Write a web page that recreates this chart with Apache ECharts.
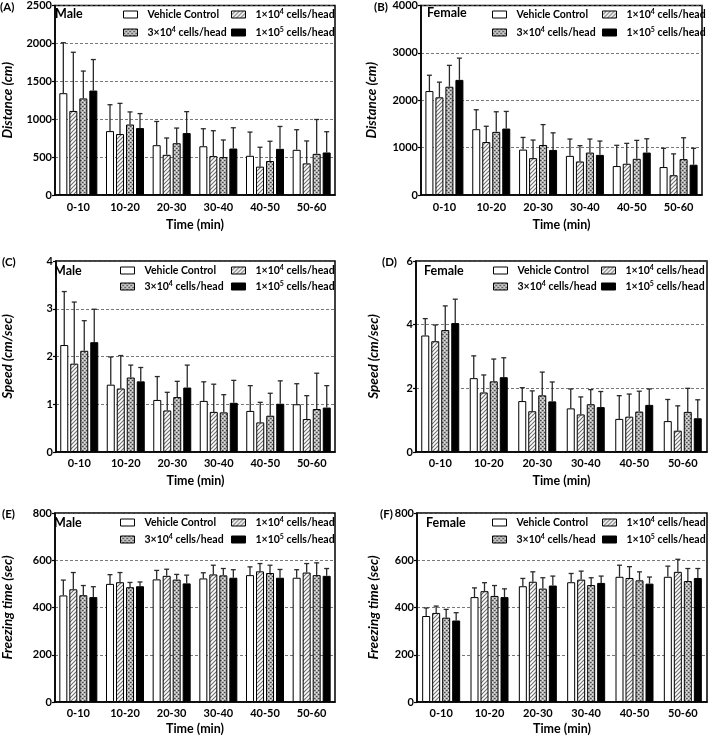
<!DOCTYPE html>
<html><head><meta charset="utf-8">
<script src="https://cdn.jsdelivr.net/npm/echarts@6/dist/echarts.min.js"></script>
<style>html,body{margin:0;padding:0;background:#fff}#c{width:709px;height:736px}</style>
</head><body><div id="c"></div>
<script>
// ---------- DATA ----------
const categories = ['0-10', '10-20', '20-30', '30-40', '40-50', '50-60'];
const seriesNames = ['Vehicle Control', '1×10⁴ cells/head', '3×10⁴ cells/head', '1×10⁵ cells/head'];

// (A) Distance, Male  [vehicle, 1e4, 3e4, 1e5]
const distanceMaleTicks = [0, 500, 1000, 1500, 2000, 2500];
const distanceMaleMeans = [
  [1343, 843, 657, 643, 517, 596],
  [1109, 804, 530, 513, 374, 417],
  [1274, 930, 683, 500, 448, 543],
  [1378, 883, 817, 613, 609, 561]];
const distanceMaleSD = [
  [666, 348, 313, 231, 313, 265],
  [774, 405, 222, 335, 256, 296],
  [361, 166, 200, 226, 261, 453],
  [409, 191, 283, 274, 295, 274]];

// (B) Distance, Female
const distanceFemaleTicks = [0, 1000, 2000, 3000, 4000];
const distanceFemaleMeans = [
  [2194, 1389, 958, 826, 611, 590],
  [2062, 1118, 778, 708, 660, 417],
  [2285, 1333, 1056, 896, 764, 757],
  [2430, 1403, 951, 847, 896, 639]];
const distanceFemaleSD = [
  [334, 410, 257, 355, 438, 396],
  [320, 333, 382, 334, 430, 451],
  [451, 424, 430, 285, 389, 451],
  [459, 361, 361, 292, 291, 347]];

// (C) Speed, Male
const speedMaleTicks = [0, 1, 2, 3, 4];
const speedMaleMeans = [
  [2.24, 1.41, 1.09, 1.07, 0.86, 1.00],
  [1.85, 1.33, 0.87, 0.84, 0.62, 0.69],
  [2.12, 1.56, 1.15, 0.83, 0.76, 0.90],
  [2.30, 1.48, 1.35, 1.03, 1.01, 0.93]];
const speedMaleSD = [
  [1.12, 0.58, 0.49, 0.40, 0.53, 0.43],
  [1.29, 0.69, 0.38, 0.58, 0.42, 0.49],
  [0.63, 0.26, 0.33, 0.37, 0.47, 0.75],
  [0.69, 0.29, 0.47, 0.47, 0.48, 0.46]];

// (D) Speed, Female
const speedFemaleTicks = [0, 2, 4, 6];
const speedFemaleMeans = [
  [3.66, 2.32, 1.60, 1.37, 1.04, 0.97],
  [3.48, 1.87, 1.28, 1.18, 1.11, 0.67],
  [3.83, 2.22, 1.78, 1.50, 1.27, 1.26],
  [4.05, 2.35, 1.59, 1.41, 1.48, 1.06]];
const speedFemaleSD = [
  [0.53, 0.70, 0.42, 0.61, 0.73, 0.68],
  [0.51, 0.55, 0.64, 0.55, 0.71, 0.78],
  [0.76, 0.70, 0.73, 0.46, 0.64, 0.74],
  [0.75, 0.61, 0.61, 0.49, 0.50, 0.58]];

// (E) Freezing time, Male
const freezeMaleTicks = [0, 200, 400, 600, 800];
const freezeMaleMeans = [
  [451, 500, 519, 523, 537, 526],
  [477, 507, 534, 540, 553, 548],
  [452, 486, 518, 536, 546, 537],
  [444, 490, 502, 526, 526, 534]];
const freezeMaleSD = [
  [65, 39, 38, 24, 35, 34],
  [71, 41, 28, 39, 33, 38],
  [41, 20, 22, 29, 33, 52],
  [44, 18, 35, 34, 35, 31]];

// (F) Freezing time, Female
const freezeFemaleTicks = [0, 200, 400, 600, 800];
const freezeFemaleMeans = [
  [364, 444, 490, 507, 530, 530],
  [377, 469, 509, 518, 525, 551],
  [357, 449, 480, 495, 515, 512],
  [345, 444, 493, 504, 501, 525]];
const freezeFemaleSD = [
  [34, 39, 33, 37, 49, 45],
  [29, 36, 42, 36, 48, 53],
  [35, 44, 46, 31, 36, 53],
  [33, 35, 40, 29, 28, 40]];

// ---------- STYLE / LAYOUT ----------
const FONT = 'Lato, "Liberation Sans", sans-serif';
const BAR_W = 8, BAR_GAP = 0.25, CAP = 5;

function hatchPattern() {
  const c = document.createElement('canvas'); c.width = 4; c.height = 4;
  const g = c.getContext('2d');
  g.fillStyle = '#ffffff'; g.fillRect(0, 0, 4, 4);
  g.strokeStyle = '#6e6e6e'; g.lineWidth = 1.1;
  g.beginPath();
  g.moveTo(0, 4); g.lineTo(4, 0);
  g.moveTo(-1, 1); g.lineTo(1, -1);
  g.moveTo(3, 5); g.lineTo(5, 3);
  g.stroke();
  return c;
}
function checkPattern() {
  const c = document.createElement('canvas'); c.width = 4; c.height = 4;
  const g = c.getContext('2d');
  g.fillStyle = '#b4b4b4'; g.fillRect(0, 0, 4, 4);
  g.fillStyle = '#4a4a4a'; g.fillRect(0, 0, 1, 1); g.fillRect(2, 2, 1, 1);
  g.fillStyle = '#7a7a7a'; g.fillRect(1, 0, 1, 1); g.fillRect(3, 2, 1, 1);
  g.fillStyle = '#e6e6e6'; g.fillRect(2, 0, 1, 1); g.fillRect(0, 2, 1, 1);
  return c;
}
const fills = ['#ffffff', { image: hatchPattern(), repeat: 'repeat' },
               { image: checkPattern(), repeat: 'repeat' }, '#000000'];

const panels = [
  { tag: '(A)', sex: 'Male', yName: 'Distance (cm)', ticks: distanceMaleTicks, means: distanceMaleMeans, sd: distanceMaleSD,
    grid: { left: 48, right: 374, top: 4, bottom: 541 }, nameGap: 40, tagPos: [0, 1], sexPos: [55, 7], leg: [123, 231], legTop: 8, legGap: 5, xLabelMargin: 7, xNameGap: 23 },
  { tag: '(B)', sex: 'Female', yName: 'Distance (cm)', ticks: distanceFemaleTicks, means: distanceFemaleMeans, sd: distanceFemaleSD,
    grid: { left: 421, right: 7, top: 4, bottom: 541 }, nameGap: 42, tagPos: [374, 1], sexPos: [427, 6], leg: [492, 602], legTop: 8, legGap: 5, xLabelMargin: 7, xNameGap: 23 },
  { tag: '(C)', sex: 'Male', yName: 'Speed (cm/sec)', ticks: speedMaleTicks, means: speedMaleMeans, sd: speedMaleSD,
    grid: { left: 48, right: 374, top: 261, bottom: 284 }, nameGap: 41, tagPos: [2, 256], sexPos: [54, 264], leg: [120, 231], legTop: 264, legGap: 3, xLabelMargin: 6, xNameGap: 22 },
  { tag: '(D)', sex: 'Female', yName: 'Speed (cm/sec)', ticks: speedFemaleTicks, means: speedFemaleMeans, sd: speedFemaleSD,
    grid: { left: 416, right: 2, top: 261, bottom: 284 }, nameGap: 35, tagPos: [382, 256], sexPos: [424, 264], leg: [493, 601], legTop: 264, legGap: 3, xLabelMargin: 6, xNameGap: 22 },
  { tag: '(E)', sex: 'Male', yName: 'Freezing time (sec)', ticks: freezeMaleTicks, means: freezeMaleMeans, sd: freezeMaleSD,
    grid: { left: 48, right: 374, top: 513, bottom: 32 }, nameGap: 40, tagPos: [2, 508], sexPos: [54, 516], leg: [120, 231], legTop: 516, legGap: 4, xLabelMargin: 6, xNameGap: 20 },
  { tag: '(F)', sex: 'Female', yName: 'Freezing time (sec)', ticks: freezeFemaleTicks, means: freezeFemaleMeans, sd: freezeFemaleSD,
    grid: { left: 417, right: 2, top: 513, bottom: 32 }, nameGap: 36, tagPos: [380, 508], sexPos: [426, 516], leg: [492, 602], legTop: 516, legGap: 4, xLabelMargin: 6, xNameGap: 20 }
];

function errRenderer(k) {
  return function (params, api) {
    const ci = api.value(0), m = api.value(1), t = api.value(2);
    const p0 = api.coord([ci, m]), p1 = api.coord([ci, t]);
    const off = (k - 1.5) * BAR_W * (1 + BAR_GAP);
    const x = p0[0] + off;
    const st = { stroke: '#2a2a2a', lineWidth: 1.3 };
    return { type: 'group', children: [
      { type: 'line', shape: { x1: x, y1: p0[1], x2: x, y2: p1[1] }, style: st },
      { type: 'line', shape: { x1: x - CAP / 2, y1: p1[1], x2: x + CAP / 2, y2: p1[1] }, style: st }
    ] };
  };
}

const option = { animation: false, backgroundColor: '#fff', grid: [], xAxis: [], yAxis: [], series: [], legend: [], title: [] };
const txt = { fontFamily: FONT, fontWeight: 'bold', color: '#000' };
const LEG_FS = 10.5;
const SUP = { '⁴': '4', '⁵': '5' };

function legendText(name) {
  const m = name.match(/^(.*?)([⁴⁵])(.*)$/);
  if (!m) return '{a|' + name + '}';
  return '{a|' + m[1] + '}{s|' + SUP[m[2]] + '}{b|' + m[3] + '}';
}

panels.forEach((p, i) => {
  option.grid.push(Object.assign({ show: true, borderColor: '#000', borderWidth: 1.5, backgroundColor: '#fff' }, p.grid));
  option.xAxis.push({
    type: 'category', gridIndex: i, data: categories,
    name: 'Time (min)', nameLocation: 'middle', nameGap: p.xNameGap,
    nameTextStyle: Object.assign({ fontSize: 12.5 }, txt),
    axisLine: { lineStyle: { color: '#000', width: 1.5 } }, axisTick: { show: false },
    axisLabel: Object.assign({ fontSize: 11, margin: p.xLabelMargin }, txt)
  });
  const tk = p.ticks;
  option.yAxis.push({
    type: 'value', gridIndex: i, min: tk[0], max: tk[tk.length - 1], interval: tk[1] - tk[0],
    name: p.yName, nameLocation: 'middle', nameGap: p.nameGap,
    nameTextStyle: Object.assign({ fontSize: 13.5, fontStyle: 'italic' }, txt),
    axisLine: { show: true, lineStyle: { color: '#000', width: 1.5 } },
    axisTick: { show: true, length: 3, lineStyle: { color: '#000', width: 1.2 } },
    axisLabel: Object.assign({ fontSize: 11, margin: 3, formatter: v => String(v) }, txt),
    splitLine: { show: true, lineStyle: { color: '#555', width: 0.8, type: [3, 2] } }
  });
  seriesNames.forEach((nm, k) => {
    option.series.push({
      type: 'bar', name: nm, xAxisIndex: i, yAxisIndex: i, data: p.means[k],
      barWidth: BAR_W, barGap: (BAR_GAP * 100) + '%', z: 2,
      itemStyle: { color: fills[k], borderColor: '#000', borderWidth: 1 }
    });
  });
  seriesNames.forEach((nm, k) => {
    option.series.push({
      type: 'custom', name: 'err' + i + '_' + k, xAxisIndex: i, yAxisIndex: i, z: 3,
      renderItem: errRenderer(k), encode: { x: 0, y: [1, 2] },
      data: categories.map((c, j) => [j, p.means[k][j], p.means[k][j] + p.sd[k][j]])
    });
  });
  const legBase = { orient: 'vertical', top: p.legTop, itemWidth: 14, itemHeight: 7, itemGap: p.legGap,
    padding: 0, selectedMode: false, icon: 'rect',
    itemStyle: { borderColor: '#000', borderWidth: 1 },
    formatter: legendText,
    textStyle: Object.assign({ fontSize: LEG_FS, lineHeight: 13,
      rich: {
        a: Object.assign({ fontSize: LEG_FS, lineHeight: 13, padding: [0, 0, 0, 5] }, txt),
        s: Object.assign({ fontSize: 7, lineHeight: 9, verticalAlign: 'top' }, txt),
        b: Object.assign({ fontSize: LEG_FS, lineHeight: 13 }, txt)
      } }, txt) };
  option.legend.push(Object.assign({}, legBase, { left: p.leg[0], data: [seriesNames[0], seriesNames[2]] }));
  option.legend.push(Object.assign({}, legBase, { left: p.leg[1], data: [seriesNames[1], seriesNames[3]] }));
  option.title.push({ text: p.tag, left: p.tagPos[0], top: p.tagPos[1], padding: 0, textStyle: Object.assign({ fontSize: 11.5 }, txt) });
  option.title.push({ text: p.sex, left: p.sexPos[0], top: p.sexPos[1], padding: 0, textStyle: Object.assign({ fontSize: 12.5 }, txt) });
});

const chart = echarts.init(document.getElementById('c'), null, { renderer: 'canvas' });
chart.setOption(option);
</script>
</body></html>
